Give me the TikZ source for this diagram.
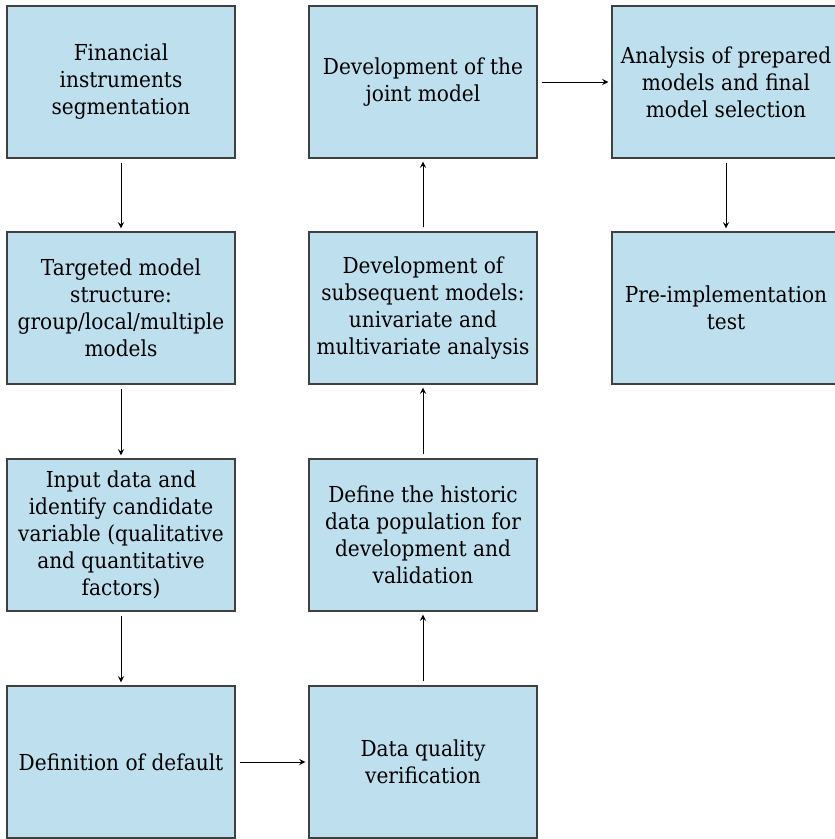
\documentclass[tikz,border=0pt]{standalone}
\usepackage{fontspec}
\setmainfont{DejaVu Serif}[FakeStretch=0.915]
\definecolor{stagefill}{RGB}{190,224,238}
\tikzstyle{stage}=[draw=black!75, fill=stagefill, line width=0.6pt,
    minimum width=114pt, minimum height=76pt, inner sep=0pt,
    align=center, font=\fontsize{11}{13.5}\selectfont]
\tikzstyle{flow}=[->, >=stealth, line width=0.4pt, shorten <=2pt, shorten >=1.5pt]
\begin{document}
\begin{tikzpicture}[x=0.5pt,y=-0.5pt]
  \useasboundingbox (0,0) rectangle (834,839);
  \node at (121,82) (seg)[stage] {Financial\\instruments\\segmentation};
  \node at (121,308) (struct)[stage] {Targeted model\\structure:\\group/local/multiple\\models};
  \node at (121,535) (input)[stage] {Input data and\\identify candidate\\variable (qualitative\\and quantitative\\factors)};
  \node at (121,762) (deflt)[stage] {Definition of default};

  \node at (423,762) (quality)[stage] {Data quality\\verification};
  \node at (423,535) (hist)[stage] {Define the historic\\data population for\\development and\\validation};
  \node at (423,308) (subseq)[stage] {Development of\\subsequent models:\\univariate and\\multivariate analysis};
  \node at (423,82) (joint)[stage] {Development of the\\joint model};

  \node at (726,82) (select)[stage] {Analysis of prepared\\models and final\\model selection};
  \node at (726,308) (pretest)[stage] {Pre-implementation\\test};

  \draw[flow] (seg) -- (struct);
  \draw[flow] (struct) -- (input);
  \draw[flow] (input) -- (deflt);
  \draw[flow] (deflt) -- (quality);
  \draw[flow] (quality) -- (hist);
  \draw[flow] (hist) -- (subseq);
  \draw[flow] (subseq) -- (joint);
  \draw[flow] (joint) -- (select);
  \draw[flow] (select) -- (pretest);
\end{tikzpicture}
\end{document}
